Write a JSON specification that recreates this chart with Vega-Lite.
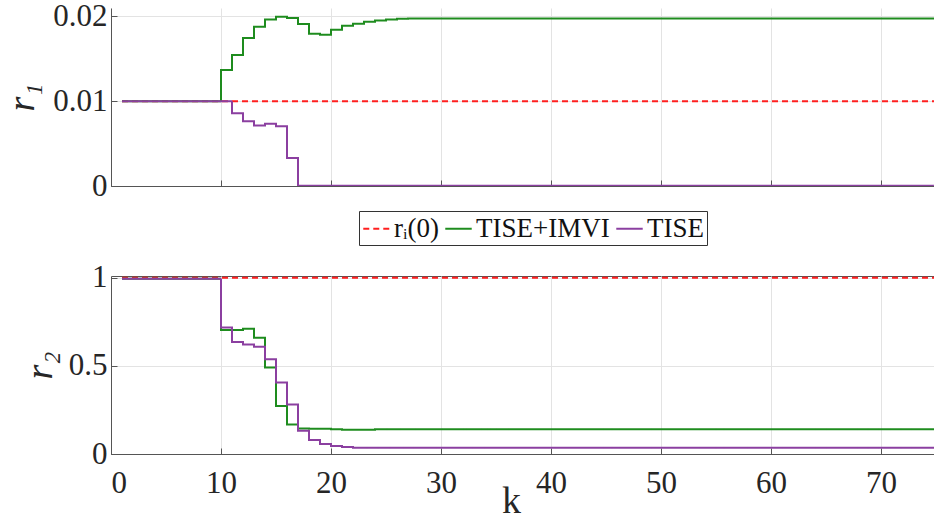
{
  "$schema": "https://vega.github.io/schema/vega-lite/v6.json",
  "background": "white",
  "padding": {"left": 3, "top": 0, "right": 0, "bottom": 0},
  "config": {
    "font": "Liberation Serif",
    "view": {"stroke": null},
    "axis": {
      "labelFont": "Liberation Serif",
      "labelFontSize": 31,
      "labelColor": "#262626",
      "titleFont": "Liberation Serif",
      "titleFontWeight": "normal",
      "titleColor": "#262626",
      "domainColor": "#555555",
      "tickColor": "#555555",
      "gridColor": "#e3e3e3",
      "tickSize": -6,
      "grid": true
    },
    "line": {"strokeWidth": 2}
  },
  "datasets": {
    "top": [
      {"k": 1, "series": "rᵢ(0)", "r1": 0.01},
      {"k": 75, "series": "rᵢ(0)", "r1": 0.01},
      {"k": 1, "series": "TISE+IMVI", "r1": 0.01},
      {"k": 10, "series": "TISE+IMVI", "r1": 0.01369},
      {"k": 11, "series": "TISE+IMVI", "r1": 0.01546},
      {"k": 12, "series": "TISE+IMVI", "r1": 0.01746},
      {"k": 13, "series": "TISE+IMVI", "r1": 0.01879},
      {"k": 14, "series": "TISE+IMVI", "r1": 0.01965},
      {"k": 15, "series": "TISE+IMVI", "r1": 0.01996},
      {"k": 16, "series": "TISE+IMVI", "r1": 0.01981},
      {"k": 17, "series": "TISE+IMVI", "r1": 0.01911},
      {"k": 18, "series": "TISE+IMVI", "r1": 0.01796},
      {"k": 19, "series": "TISE+IMVI", "r1": 0.01785},
      {"k": 20, "series": "TISE+IMVI", "r1": 0.01844},
      {"k": 21, "series": "TISE+IMVI", "r1": 0.01891},
      {"k": 22, "series": "TISE+IMVI", "r1": 0.01914},
      {"k": 23, "series": "TISE+IMVI", "r1": 0.01938},
      {"k": 24, "series": "TISE+IMVI", "r1": 0.01953},
      {"k": 25, "series": "TISE+IMVI", "r1": 0.01965},
      {"k": 26, "series": "TISE+IMVI", "r1": 0.01973},
      {"k": 27, "series": "TISE+IMVI", "r1": 0.01976},
      {"k": 75, "series": "TISE+IMVI", "r1": 0.01976},
      {"k": 1, "series": "TISE", "r1": 0.01},
      {"k": 11, "series": "TISE", "r1": 0.00859},
      {"k": 12, "series": "TISE", "r1": 0.00765},
      {"k": 13, "series": "TISE", "r1": 0.00714},
      {"k": 14, "series": "TISE", "r1": 0.00734},
      {"k": 15, "series": "TISE", "r1": 0.00706},
      {"k": 16, "series": "TISE", "r1": 0.00329},
      {"k": 17, "series": "TISE", "r1": 0.00003},
      {"k": 75, "series": "TISE", "r1": 0.00003}
    ],
    "bottom": [
      {"k": 1, "series": "rᵢ(0)", "r2": 1},
      {"k": 75, "series": "rᵢ(0)", "r2": 1},
      {"k": 1, "series": "TISE+IMVI", "r2": 0.995},
      {"k": 10, "series": "TISE+IMVI", "r2": 0.703},
      {"k": 12, "series": "TISE+IMVI", "r2": 0.711},
      {"k": 13, "series": "TISE+IMVI", "r2": 0.66},
      {"k": 14, "series": "TISE+IMVI", "r2": 0.491},
      {"k": 15, "series": "TISE+IMVI", "r2": 0.272},
      {"k": 16, "series": "TISE+IMVI", "r2": 0.168},
      {"k": 17, "series": "TISE+IMVI", "r2": 0.145},
      {"k": 18, "series": "TISE+IMVI", "r2": 0.143},
      {"k": 20, "series": "TISE+IMVI", "r2": 0.141},
      {"k": 21, "series": "TISE+IMVI", "r2": 0.137},
      {"k": 24, "series": "TISE+IMVI", "r2": 0.141},
      {"k": 75, "series": "TISE+IMVI", "r2": 0.141},
      {"k": 1, "series": "TISE", "r2": 0.995},
      {"k": 10, "series": "TISE", "r2": 0.718},
      {"k": 11, "series": "TISE", "r2": 0.635},
      {"k": 12, "series": "TISE", "r2": 0.622},
      {"k": 13, "series": "TISE", "r2": 0.609},
      {"k": 14, "series": "TISE", "r2": 0.537},
      {"k": 15, "series": "TISE", "r2": 0.406},
      {"k": 16, "series": "TISE", "r2": 0.281},
      {"k": 17, "series": "TISE", "r2": 0.132},
      {"k": 18, "series": "TISE", "r2": 0.079},
      {"k": 19, "series": "TISE", "r2": 0.057},
      {"k": 20, "series": "TISE", "r2": 0.045},
      {"k": 21, "series": "TISE", "r2": 0.04},
      {"k": 22, "series": "TISE", "r2": 0.036},
      {"k": 75, "series": "TISE", "r2": 0.036}
    ]
  },
  "spacing": 15,
  "resolve": {"legend": {"color": "independent", "strokeDash": "independent"}},
  "vconcat": [
    {
      "width": 825,
      "height": 178,
      "data": {"name": "top"},
      "mark": {"type": "line", "interpolate": "step-after", "strokeWidth": 2, "clip": true},
      "encoding": {
        "x": {
          "field": "k", "type": "quantitative",
          "scale": {"domain": [0, 75], "nice": false},
          "axis": {"values": [0, 10, 20, 30, 40, 50, 60, 70], "labels": false, "title": null}
        },
        "y": {
          "field": "r1", "type": "quantitative",
          "scale": {"domain": [0, 0.021], "nice": false},
          "axis": {
            "values": [0, 0.01, 0.02],
            "format": "~g",
            "title": "r₁",
            "titleFontSize": 38,
            "titleFontStyle": "italic",
            "titlePadding": 11,
            "labelPadding": 10
          }
        },
        "color": {
          "field": "series", "type": "nominal", "sort": null,
          "scale": {"domain": ["rᵢ(0)", "TISE+IMVI", "TISE"], "range": ["#ff1f1f", "#1e8c1e", "#8b3fa0"]},
          "legend": {
            "orient": "none", "legendX": 248, "legendY": 203,
            "direction": "horizontal", "title": null,
            "symbolType": "stroke", "symbolSize": 700, "symbolStrokeWidth": 2,
            "labelFont": "Liberation Serif", "labelFontSize": 27, "labelColor": "#111111",
            "labelOffset": 3, "columnPadding": 2,
            "strokeColor": "#333333", "fillColor": "white", "padding": 3
          }
        },
        "strokeDash": {
          "field": "series", "type": "nominal", "sort": null,
          "scale": {"domain": ["rᵢ(0)", "TISE+IMVI", "TISE"], "range": [[6, 4], [1, 0], [1, 0]]},
          "legend": {
            "orient": "none", "legendX": 248, "legendY": 203,
            "direction": "horizontal", "title": null,
            "symbolType": "stroke", "symbolSize": 700, "symbolStrokeWidth": 2,
            "labelFont": "Liberation Serif", "labelFontSize": 27, "labelColor": "#111111",
            "labelOffset": 3, "columnPadding": 2,
            "strokeColor": "#333333", "fillColor": "white", "padding": 3
          }
        }
      }
    },
    {
      "width": 825,
      "height": 178,
      "view": {"stroke": "#555555"},
      "data": {"name": "bottom"},
      "mark": {"type": "line", "interpolate": "step-after", "strokeWidth": 2, "clip": true},
      "encoding": {
        "x": {
          "field": "k", "type": "quantitative",
          "scale": {"domain": [0, 75], "nice": false},
          "axis": {"values": [0, 10, 20, 30, 40, 50, 60, 70], "title": "k", "titleFontSize": 38, "titleFontStyle": "normal", "labelPadding": 20, "titleX": 400, "titleY": 58, "titleBaseline": "alphabetic", "titleAnchor": "middle"}
        },
        "y": {
          "field": "r2", "type": "quantitative",
          "scale": {"domain": [0, 1.01], "nice": false},
          "axis": {
            "values": [0, 0.5, 1],
            "format": "~g",
            "title": "r₂",
            "titleFontSize": 38,
            "titleFontStyle": "italic",
            "titlePadding": 9,
            "labelPadding": 10
          }
        },
        "color": {
          "field": "series", "type": "nominal", "sort": null,
          "scale": {"domain": ["rᵢ(0)", "TISE+IMVI", "TISE"], "range": ["#ff1f1f", "#1e8c1e", "#8b3fa0"]},
          "legend": null
        },
        "strokeDash": {
          "field": "series", "type": "nominal", "sort": null,
          "scale": {"domain": ["rᵢ(0)", "TISE+IMVI", "TISE"], "range": [[6, 4], [1, 0], [1, 0]]},
          "legend": null
        }
      }
    }
  ]
}
